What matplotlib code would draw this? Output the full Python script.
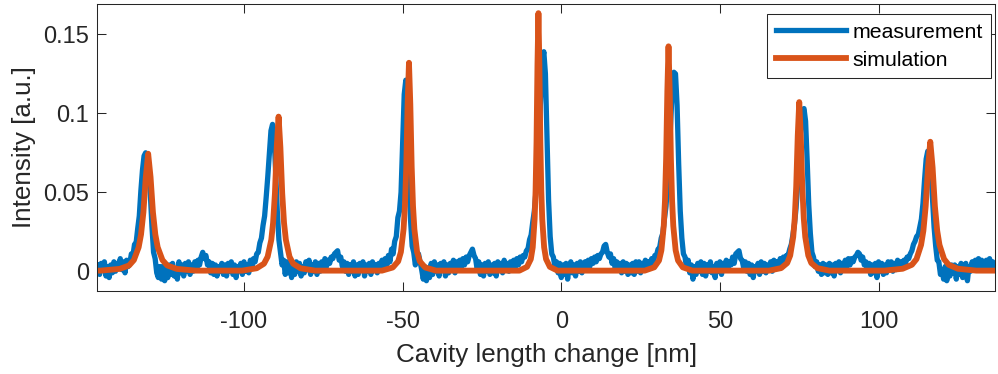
import numpy as np
import matplotlib
matplotlib.use('Agg')
import matplotlib.pyplot as plt

plt.rcParams['font.family'] = ['Liberation Sans', 'DejaVu Sans']
plt.rcParams['axes.unicode_minus'] = False

# measured transmission, sampled every 0.5 nm from -146 nm
meas_x0 = -146.0
meas_dx = 0.5
meas_y = [
    # -146 .. -136.5
    0.004, -0.002, 0.005, 0.001, 0.006, -0.003, 0.003, -0.004, 0.004, -0.001,
    0.006, 0.000, 0.005, 0.002, 0.008, 0.001, 0.006, -0.001, 0.007, 0.003,
    # -136 .. -126.5
    0.005, 0.011, 0.010, 0.017, 0.018, 0.027, 0.035, 0.051, 0.064, 0.073,
    0.075, 0.074, 0.066, 0.048, 0.028, 0.012, 0.008, -0.001, -0.004, 0.003,
    # -126 .. -116.5
    -0.005, 0.003, -0.006, 0.002, -0.004, 0.004, -0.002, 0.005, -0.003, 0.001,
    -0.005, 0.006, -0.001, 0.004, -0.003, 0.005, 0.000, 0.006, -0.002, 0.004,
    # -116 .. -106.5
    0.000, 0.006, 0.001, 0.007, 0.004, 0.009, 0.012, 0.008, 0.010, 0.004,
    0.006, -0.001, 0.005, -0.002, 0.004, -0.003, 0.003, 0.000, 0.005, -0.002,
    # -106 .. -96.5
    0.004, -0.003, 0.005, 0.000, 0.006, -0.002, 0.004, -0.004, 0.003, 0.001,
    0.005, -0.002, 0.006, 0.000, 0.004, -0.001, 0.007, 0.002, 0.008, 0.006,
    # -96 .. -86.5
    0.011, 0.012, 0.018, 0.021, 0.029, 0.035, 0.047, 0.060, 0.075, 0.089,
    0.093, 0.085, 0.062, 0.038, 0.020, 0.012, 0.004, 0.007, -0.002, 0.006,
    # -86 .. -76.5
    -0.001, 0.005, -0.004, 0.004, -0.002, 0.006, 0.000, 0.005, -0.003, 0.003,
    -0.001, 0.006, 0.001, 0.007, -0.002, 0.004, 0.000, 0.006, -0.002, 0.005,
    # -76 .. -66.5
    0.000, 0.006, 0.002, 0.008, 0.003, 0.007, 0.005, 0.009, 0.008, 0.011,
    0.012, 0.013, 0.007, 0.009, 0.003, 0.006, 0.000, 0.005, -0.002, 0.004,
    # -66 .. -56.5
    0.000, 0.006, -0.003, 0.004, -0.002, 0.005, 0.001, 0.006, -0.003, 0.004,
    0.000, 0.005, -0.002, 0.006, 0.001, 0.004, -0.001, 0.005, 0.002, 0.007,
    # -56 .. -46.5
    0.003, 0.008, 0.004, 0.010, 0.006, 0.014, 0.011, 0.019, 0.022, 0.034,
    0.038, 0.050, 0.080, 0.112, 0.121, 0.100, 0.062, 0.032, 0.016, 0.012,
    # -46 .. -36.5
    0.004, 0.008, 0.011, 0.006, 0.001, -0.005, 0.003, -0.006, 0.002, -0.004,
    0.005, -0.002, 0.006, 0.000, 0.004, -0.003, 0.005, 0.001, 0.006, -0.003,
    # -36 .. -26.5
    0.004, -0.001, 0.005, 0.001, 0.007, -0.001, 0.006, 0.002, 0.007, 0.003,
    0.008, 0.004, 0.009, 0.006, 0.010, 0.012, 0.014, 0.010, 0.008, 0.001,
    # -26 .. -16.5
    0.006, -0.002, 0.004, -0.003, 0.005, 0.000, 0.006, -0.002, 0.004, -0.001,
    0.005, -0.003, 0.006, 0.001, 0.005, -0.001, 0.007, 0.002, 0.005, 0.000,
    # -16 .. -6.5
    0.006, 0.001, 0.007, 0.003, 0.008, 0.004, 0.009, 0.006, 0.010, 0.009,
    0.013, 0.014, 0.020, 0.023, 0.031, 0.038, 0.050, 0.065, 0.085, 0.110,
    # -6 .. 3.5
    0.133, 0.139, 0.125, 0.085, 0.045, 0.022, 0.011, 0.009, 0.003, 0.006,
    -0.001, 0.005, -0.004, 0.004, -0.002, 0.005, -0.005, 0.003, 0.006, -0.001,
    # 4 .. 13.5
    0.004, -0.003, 0.005, 0.000, 0.006, -0.001, 0.004, 0.006, 0.002, 0.007,
    0.003, 0.008, 0.005, 0.009, 0.006, 0.010, 0.008, 0.011, 0.012, 0.016,
    # 14 .. 23.5
    0.017, 0.012, 0.009, 0.011, 0.005, 0.008, 0.002, 0.006, 0.001, 0.005,
    -0.001, 0.006, 0.000, 0.005, -0.002, 0.004, -0.001, 0.005, -0.002, 0.006,
    # 24 .. 33.5
    0.000, 0.006, -0.001, 0.005, 0.001, 0.007, 0.002, 0.006, 0.004, 0.008,
    0.006, 0.010, 0.010, 0.014, 0.015, 0.021, 0.024, 0.033, 0.041, 0.055,
    # 34 .. 43.5
    0.072, 0.095, 0.117, 0.126, 0.125, 0.105, 0.068, 0.038, 0.021, 0.011,
    0.009, 0.002, 0.007, -0.001, 0.004, -0.005, 0.003, -0.002, 0.005, 0.000,
    # 44 .. 53.5
    0.006, -0.002, 0.005, -0.003, 0.004, 0.000, 0.006, -0.001, 0.003, -0.004,
    0.005, 0.000, 0.006, -0.002, 0.005, 0.001, 0.007, 0.002, 0.006, 0.004,
    # 54 .. 63.5
    0.009, 0.005, 0.011, 0.012, 0.013, 0.008, 0.007, 0.002, 0.006, 0.000,
    0.005, -0.002, 0.004, -0.004, 0.003, 0.000, 0.005, -0.002, 0.006, 0.000,
    # 64 .. 73.5
    0.005, -0.001, 0.004, 0.001, 0.006, 0.000, 0.007, 0.002, 0.006, 0.003,
    0.008, 0.004, 0.009, 0.006, 0.010, 0.010, 0.014, 0.017, 0.023, 0.030,
    # 74 .. 83.5
    0.040, 0.055, 0.075, 0.092, 0.101, 0.103, 0.095, 0.070, 0.042, 0.024,
    0.012, 0.009, 0.003, 0.006, 0.000, 0.004, -0.002, 0.005, -0.001, 0.004,
    # 84 .. 93.5
    -0.002, 0.005, -0.001, 0.004, -0.003, 0.005, 0.001, 0.006, -0.001, 0.005,
    0.002, 0.007, 0.003, 0.008, 0.004, 0.008, 0.006, 0.009, 0.010, 0.012,
    # 94 .. 103.5
    0.011, 0.007, 0.009, 0.004, 0.006, 0.001, 0.005, -0.002, 0.004, -0.001,
    0.005, -0.004, 0.006, 0.000, 0.005, -0.002, 0.004, -0.001, 0.006, 0.001,
    # 104 .. 113.5
    0.006, 0.000, 0.005, 0.001, 0.007, 0.002, 0.006, 0.003, 0.007, 0.005,
    0.009, 0.008, 0.011, 0.013, 0.017, 0.019, 0.022, 0.023, 0.028, 0.033,
    # 114 .. 123.5
    0.043, 0.058, 0.071, 0.076, 0.074, 0.064, 0.046, 0.028, 0.016, 0.007,
    0.006, -0.002, 0.001, -0.005, 0.003, -0.006, 0.002, -0.003, 0.004, -0.001,
    # 124 .. 133.5
    0.004, -0.005, 0.003, -0.002, 0.005, -0.004, 0.002, 0.005, -0.006, 0.003,
    0.000, 0.006, 0.001, 0.007, 0.002, 0.008, 0.003, 0.007, 0.001, 0.006,
    # 134 .. 137.5
    0.007, 0.002, 0.008, 0.001, 0.006, 0.002, 0.005, 0.003,
]

# simulated transmission (7 resonances)
sim_x = [
    -146.2,
    -145.2, -139.2, -136.2, -134.7, -133.2, -132.45, -131.7, -130.95, -130.2,
    -129.45, -128.7, -127.95, -127.2, -125.7, -124.2, -121.2, -115.2,
    -100.6, -96.0, -93.7, -92.55, -91.4, -90.83, -90.25, -89.68, -89.1,
    -88.53, -87.95, -87.38, -86.8, -85.65, -84.5, -82.2, -77.6,
    -56.5, -53.1, -51.4, -50.55, -49.7, -49.28, -48.85, -48.43, -48.0,
    -47.58, -47.15, -46.73, -46.3, -45.45, -44.6, -42.9, -39.5,
    -13.2, -10.8, -9.6, -9.0, -8.4, -8.1, -7.8, -7.5, -7.2,
    -6.9, -6.6, -6.3, -6.0, -5.4, -4.8, -3.6, -1.2,
    26.3, 29.3, 30.8, 31.55, 32.3, 32.68, 33.05, 33.43, 33.8,
    34.18, 34.55, 34.93, 35.3, 36.05, 36.8, 38.3, 41.3,
    65.5, 69.3, 71.2, 72.15, 73.1, 73.58, 74.05, 74.53, 75.0,
    75.48, 75.95, 76.43, 76.9, 77.85, 78.8, 80.7, 84.5,
    101.8, 107.6, 110.5, 111.95, 113.4, 114.13, 114.85, 115.58, 116.3,
    117.03, 117.75, 118.48, 119.2, 120.65, 122.1, 125.0, 130.8,
    136.7,
]
sim_y = [
    0.0004,
    0.0004, 0.0015, 0.0037, 0.0071, 0.0152, 0.0233, 0.0374, 0.0596, 0.0744,
    0.0596, 0.0374, 0.0233, 0.0152, 0.0071, 0.0037, 0.0015, 0.0004,
    0.0004, 0.0019, 0.0048, 0.0092, 0.0199, 0.0306, 0.0492, 0.0784, 0.0979,
    0.0784, 0.0492, 0.0306, 0.0199, 0.0092, 0.0048, 0.0019, 0.0004,
    0.0004, 0.0024, 0.0063, 0.0122, 0.0267, 0.0412, 0.0662, 0.1057, 0.1320,
    0.1057, 0.0662, 0.0412, 0.0267, 0.0122, 0.0063, 0.0024, 0.0004,
    0.0004, 0.0028, 0.0077, 0.0151, 0.0330, 0.0509, 0.0819, 0.1308, 0.1634,
    0.1308, 0.0819, 0.0509, 0.0330, 0.0151, 0.0077, 0.0028, 0.0004,
    0.0004, 0.0025, 0.0068, 0.0132, 0.0288, 0.0444, 0.0714, 0.1140, 0.1424,
    0.1140, 0.0714, 0.0444, 0.0288, 0.0132, 0.0068, 0.0025, 0.0004,
    0.0004, 0.0020, 0.0052, 0.0100, 0.0217, 0.0335, 0.0538, 0.0858, 0.1071,
    0.0858, 0.0538, 0.0335, 0.0217, 0.0100, 0.0052, 0.0020, 0.0004,
    0.0004, 0.0016, 0.0041, 0.0077, 0.0167, 0.0257, 0.0412, 0.0657, 0.0820,
    0.0657, 0.0412, 0.0257, 0.0167, 0.0077, 0.0041, 0.0016, 0.0004,
    0.0004,
]

x_ticks = [-100, -50, 0, 50, 100]
x_tick_labels = ['-100', '-50', '0', '50', '100']
y_ticks = [0, 0.05, 0.1, 0.15]
y_tick_labels = ['0', '0.05', '0.1', '0.15']

meas_x = meas_x0 + meas_dx * np.arange(len(meas_y))

axcol = '#262626'
fig = plt.figure(figsize=(9.98, 3.74), dpi=100)
ax = fig.add_axes([0.0976, 0.2219, 0.997 - 0.0976, 0.9893 - 0.2219])

ax.plot(meas_x, meas_y, color='#0072BD', lw=3.8, solid_joinstyle='round',
        label='measurement')
ax.plot(sim_x, sim_y, color='#D95319', lw=4.2, solid_joinstyle='round',
        label='simulation')

ax.set_xlim(-146.2, 136.7)
ax.set_ylim(-0.0125, 0.1692)
ax.set_xticks(x_ticks)
ax.set_xticklabels(x_tick_labels)
ax.set_yticks(y_ticks)
ax.set_yticklabels(y_tick_labels)
ax.tick_params(direction='in', length=6.5, width=0.75, colors=axcol,
               labelsize=17, top=True, right=True)
ax.tick_params(axis='x', pad=14.5)
ax.tick_params(axis='y', pad=6)
for s in ax.spines.values():
    s.set_color(axcol)
    s.set_linewidth(0.75)

ax.set_xlabel('Cavity length change [nm]', fontsize=18.7, color=axcol, labelpad=7)
ax.set_ylabel('Intensity [a.u.]', fontsize=18.7, color=axcol, labelpad=5)

leg = ax.legend(loc='upper right', bbox_to_anchor=(0.9955, 0.964), fontsize=15.3,
                handlelength=3.3, handletextpad=0.3, labelspacing=0.42,
                borderpad=0.4, borderaxespad=0, fancybox=False, framealpha=1)
leg.get_frame().set_edgecolor(axcol)
leg.get_frame().set_linewidth(0.75)
for t in leg.get_texts():
    t.set_color('#000000')

fig.savefig('out.png', dpi=100)
